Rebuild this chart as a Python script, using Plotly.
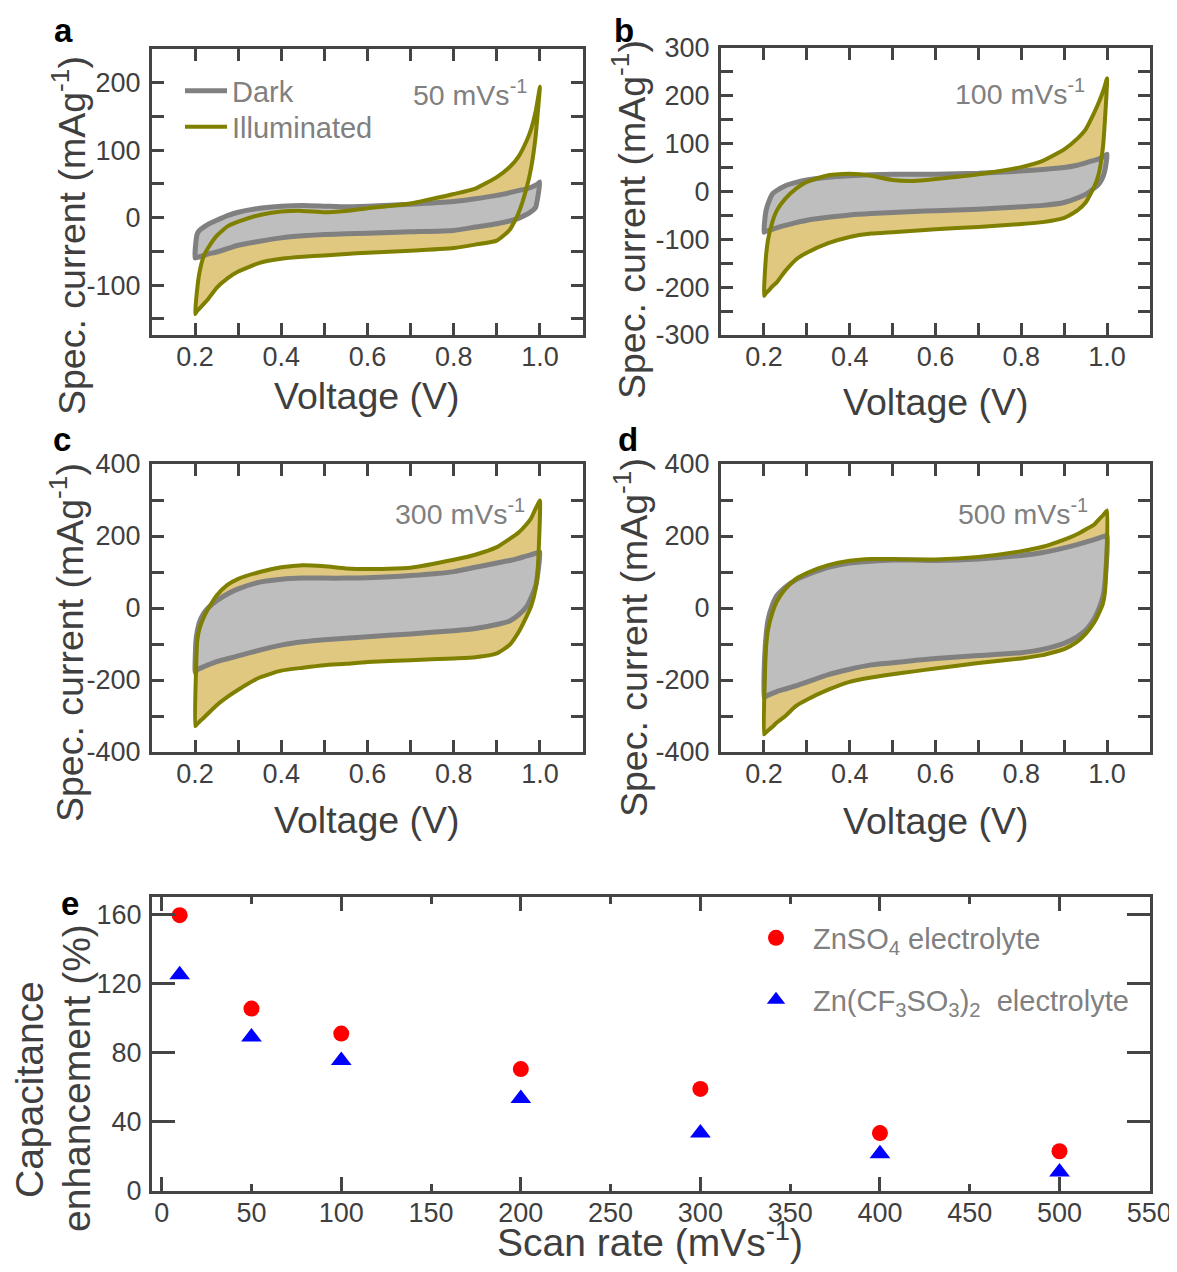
import plotly.graph_objects as go

# ---------------- data ----------------
V_GRID = [0.200, 0.202, 0.205, 0.210, 0.220, 0.230, 0.250, 0.275, 0.300, 0.350,
          0.400, 0.450, 0.500, 0.550, 0.600, 0.700, 0.800, 0.850, 0.900, 0.930,
          0.950, 0.970, 0.980, 0.990, 0.995, 1.000]

# panel a, 50 mV/s
A_DARK_FWD = [-60, -35, -24, -19, -14, -10, -4, 3, 8, 14, 17, 18, 17, 16, 17, 20, 24, 28, 33, 37, 40, 43, 45, 48, 50, 53]
A_DARK_REV = [-60, -59.5, -59, -58, -56, -54, -51, -46, -41, -35, -30, -27, -25, -24, -23, -21, -19, -14, -9, -5, -1, 5, 9, 15, 30, 53]
A_ILL_FWD = [-143, -125, -105, -82, -57, -45, -27, -13, -6, 4, 9, 10, 8, 10, 14, 21, 35, 43, 60, 75, 90, 115, 132, 157, 175, 194]
A_ILL_REV = [-143, -141, -138, -135, -128, -121, -104, -90, -80, -67, -61, -58, -56, -54, -52, -49, -45, -40, -34, -18, 6, 46, 75, 120, 155, 194]
# panel b, 100 mV/s
B_DARK_FWD = [-85, -60, -40, -25, -5, 2, 12, 19, 24, 30, 33, 35, 36, 36, 36, 38, 43, 46, 50, 55, 60, 65, 68, 72, 75, 78]
B_DARK_REV = [-85, -84, -83, -82, -79, -76, -71, -65, -60, -54, -49, -46, -44, -42, -40, -37, -32, -29, -23, -14, -6, 7, 15, 30, 45, 78]
B_ILL_FWD = [-218, -175, -134, -99, -63, -40, -15, 6, 20, 34, 37, 33, 24, 22, 26, 36, 51, 64, 88, 110, 130, 165, 185, 208, 222, 237]
B_ILL_REV = [-218, -216, -212, -208, -198, -190, -166, -142, -128, -108, -95, -88, -85, -82, -79, -74, -68, -64, -55, -40, -23, 10, 35, 90, 150, 237]
# panel c, 300 mV/s
C_DARK_FWD = [-179, -90, -65, -40, -15, 0, 20, 39, 53, 72, 80, 83, 83, 83, 84, 90, 101, 113, 125, 132, 138, 145, 148, 152, 154, 155]
C_DARK_REV = [-179, -176, -172, -168, -163, -158, -149, -141, -133, -117, -103, -94, -88, -84, -80, -72, -63, -57, -46, -36, -20, 5, 30, 60, 95, 155]
C_ILL_FWD = [-328, -180, -91, -58, -26, -3, 35, 64, 81, 100, 113, 119, 116, 110, 108, 112, 134, 148, 169, 192, 209, 234, 250, 276, 288, 299]
C_ILL_REV = [-328, -326, -322, -316, -305, -293, -270, -247, -227, -193, -174, -166, -159, -155, -150, -145, -140, -137, -126, -102, -68, -21, 6, 53, 108, 299]
# panel d, 500 mV/s
D_DARK_FWD = [-249, -130, -77, -31, 9, 34, 58, 79, 92, 113, 125, 130, 133, 133, 132, 136, 146, 154, 167, 176, 183, 190, 194, 198, 200, 201]
D_DARK_REV = [-249, -247, -245, -242, -237, -232, -225, -216, -206, -185, -170, -158, -152, -146, -140, -132, -124, -115, -98, -80, -62, -30, -5, 30, 70, 201]
D_ILL_FWD = [-351, -200, -110, -58, -12, 18, 53, 81, 97, 119, 131, 136, 136, 135, 135, 142, 158, 170, 190, 205, 218, 232, 245, 257, 264, 271]
D_ILL_REV = [-351, -349, -345, -340, -330, -318, -300, -272, -255, -227, -205, -193, -184, -176, -168, -153, -140, -131, -114, -94, -72, -40, -17, 11, 45, 271]

# panel e
E_RATE = [10, 50, 100, 200, 300, 400, 500]
E_ZNSO4 = [159.5, 105.5, 91, 70.5, 59, 33.5, 23]
E_ZNOTF = [125, 89, 75.5, 53.5, 33.5, 21.5, 11]

# ticks and tick labels
CV_XTICKS = [0.2, 0.4, 0.6, 0.8, 1.0]
CV_XLABELS = ['0.2', '0.4', '0.6', '0.8', '1.0']
CV_XMINOR = [0.3, 0.5, 0.7, 0.9]
A_YTICKS = [-100, 0, 100, 200]
A_YMINOR = [-150, -50, 50, 150]
B_YTICKS = [-300, -200, -100, 0, 100, 200, 300]
B_YMINOR = [-250, -150, -50, 50, 150, 250]
CD_YTICKS = [-400, -200, 0, 200, 400]
CD_YMINOR = [-300, -100, 100, 300]
E_XTICKS = [0, 50, 100, 150, 200, 250, 300, 350, 400, 450, 500, 550]
E_XMAJOR = [0, 100, 200, 300, 400, 500]
E_YTICKS = [0, 40, 80, 120, 160]

# ---------------- styling ----------------
FONT = 'Liberation Sans, Arial, sans-serif'
AX = '#444444'
TXT = '#3f3f3f'
GTXT = '#808080'
DARK_LINE = '#808080'
DARK_FILL = '#bebebe'
ILL_LINE = '#808000'
ILL_FILL = '#e0c880'

W, H = 1161, 1256
OFF = 8


def fx(p):
    return (p - OFF) / W


def fy(p):
    return 1 - (p - OFF) / H


fig = go.Figure()

panels = [
    dict(k='', box=(152, 583, 49, 335), yr=[-174, 250], yt=A_YTICKS, ym=A_YMINOR,
         d=(A_DARK_FWD, A_DARK_REV), i=(A_ILL_FWD, A_ILL_REV)),
    dict(k='2', box=(721, 1150, 48, 335), yr=[-300, 300], yt=B_YTICKS, ym=B_YMINOR,
         d=(B_DARK_FWD, B_DARK_REV), i=(B_ILL_FWD, B_ILL_REV)),
    dict(k='3', box=(152, 583, 464, 752), yr=[-400, 400], yt=CD_YTICKS, ym=CD_YMINOR,
         d=(C_DARK_FWD, C_DARK_REV), i=(C_ILL_FWD, C_ILL_REV)),
    dict(k='4', box=(721, 1150, 464, 752), yr=[-400, 400], yt=CD_YTICKS, ym=CD_YMINOR,
         d=(D_DARK_FWD, D_DARK_REV), i=(D_ILL_FWD, D_ILL_REV)),
]


def loop(fwd, rev):
    xs = list(V_GRID) + list(V_GRID[::-1][1:])
    ys = list(fwd) + list(rev[::-1][1:])
    return xs, ys


common = dict(showline=True, linewidth=3, linecolor=AX, mirror='ticks', ticks='inside',
              tickwidth=3, tickcolor=AX, showgrid=False, zeroline=False,
              tickfont=dict(family=FONT, size=27, color=TXT), tickmode='array',
              ticklabeloverflow='allow')


def minor(vals, length):
    return dict(tickmode='array', tickvals=vals, ticklen=length, tickwidth=3,
                tickcolor=AX, ticks='inside', showgrid=False)


layout_axes = {}
for p in panels:
    k = p['k']
    xa, ya = 'x' + k, 'y' + k
    x0, x1, y0, y1 = p['box']
    ix, iy = loop(*p['i'])
    dx, dy = loop(*p['d'])
    sm = dict(shape='spline', smoothing=0.5)
    fig.add_trace(go.Scatter(x=ix, y=iy, mode='lines', fill='toself', fillcolor=ILL_FILL,
                             line=dict(width=0, **sm), xaxis=xa, yaxis=ya, showlegend=False,
                             hoverinfo='skip'))
    fig.add_trace(go.Scatter(x=dx, y=dy, mode='lines', fill='toself', fillcolor=DARK_FILL,
                             line=dict(color=DARK_LINE, width=5, **sm), xaxis=xa, yaxis=ya,
                             showlegend=False))
    fig.add_trace(go.Scatter(x=ix, y=iy, mode='lines',
                             line=dict(color=ILL_LINE, width=4, **sm), xaxis=xa, yaxis=ya,
                             showlegend=False))
    layout_axes['xaxis' + k] = dict(domain=[fx(x0), fx(x1)], range=[0.1, 1.1], anchor=ya,
                                    tickvals=CV_XTICKS, ticktext=CV_XLABELS, ticklen=12,
                                    minor=minor(CV_XMINOR, 12),
                                    ticklabelstandoff=-4, **common)
    layout_axes['yaxis' + k] = dict(domain=[fy(y1), fy(y0)], range=p['yr'], anchor=xa,
                                    tickvals=p['yt'], ticktext=[str(v) for v in p['yt']],
                                    ticklen=12, minor=minor(p['ym'], 12),
                                    ticklabelstandoff=3, **common)

# legend entries for panel a (one legend per entry for exact spacing)
fig.add_trace(go.Scatter(x=[None], y=[None], mode='lines', name='Dark',
                         line=dict(color=DARK_LINE, width=5), legend='legend'))
fig.add_trace(go.Scatter(x=[None], y=[None], mode='lines', name='Illuminated',
                         line=dict(color=ILL_LINE, width=4), legend='legend3'))

# panel e
fig.add_trace(go.Scatter(x=E_RATE, y=E_ZNSO4, mode='markers', name='ZnSO<sub>4</sub> electrolyte',
                         marker=dict(symbol='circle', size=16, color='#ff0000'),
                         xaxis='x5', yaxis='y5', legend='legend2'))
fig.add_trace(go.Scatter(x=E_RATE, y=E_ZNOTF, mode='markers',
                         name='Zn(CF<sub>3</sub>SO<sub>3</sub>)<sub>2</sub>  electrolyte',
                         marker=dict(symbol='triangle-up', size=18, color='#0000ff'),
                         xaxis='x5', yaxis='y5', legend='legend4'))

layout_axes['xaxis5'] = dict(domain=[fx(152), fx(1150)], range=[-5.4, 550.4], anchor='y5',
                             tickvals=E_XTICKS, ticktext=[str(v) for v in E_XTICKS], ticklen=7,
                             minor=minor(E_XMAJOR, 14),
                             ticklabelstandoff=-4, **common)
layout_axes['yaxis5'] = dict(domain=[fy(1191), fy(897)], range=[0, 170], anchor='x5',
                             tickvals=E_YTICKS, ticktext=[str(v) for v in E_YTICKS], ticklen=23,
                             ticklabelstandoff=2, **common)

ann = []


def text(x, y, s, size, color=TXT, xanchor='center', yanchor='middle', angle=0, bold=False):
    if bold:
        s = '<b>' + s + '</b>'
    ann.append(dict(x=fx(x), y=fy(y), xref='paper', yref='paper', text=s, showarrow=False,
                    xanchor=xanchor, yanchor=yanchor, textangle=angle, borderpad=0,
                    font=dict(family=FONT, size=size, color=color)))


# panel letters
text(63, 31, 'a', 33, '#000000', bold=True)
text(624, 31, 'b', 33, '#000000', bold=True)
text(62, 439, 'c', 33, '#000000', bold=True)
text(628, 440, 'd', 33, '#000000', bold=True)
text(70, 904, 'e', 33, '#000000', bold=True)

# scan-rate labels
text(528, 93, '50 mVs<sup>-1</sup>', 28.5, GTXT, xanchor='right')
text(1086, 92, '100 mVs<sup>-1</sup>', 28.5, GTXT, xanchor='right')
text(526, 512, '300 mVs<sup>-1</sup>', 28.5, GTXT, xanchor='right')
text(1089, 512, '500 mVs<sup>-1</sup>', 28.5, GTXT, xanchor='right')

# axis titles
YT = 'Spec. current (mAg<sup>-1</sup>)'
text(367, 396, 'Voltage (V)', 37.5)
text(936, 402, 'Voltage (V)', 37.5)
text(367, 820, 'Voltage (V)', 37.5)
text(936, 821, 'Voltage (V)', 37.5)
text(69, 236, YT, 37.5, angle=-90)
text(629, 219, YT, 37.5, angle=-90)
text(67, 643, YT, 37.5, angle=-90)
text(631, 638, YT, 37.5, angle=-90)
text(29, 1090, 'Capacitance', 39, angle=-90)
text(76, 1078, 'enhancement (%)', 39, angle=-90)
text(650, 1239, 'Scan rate (mVs<sup>-1</sup>)', 39)


def leg(x, y):
    return dict(x=fx(x), y=fy(y), xanchor='left', yanchor='middle', bgcolor='rgba(0,0,0,0)',
                font=dict(family=FONT, size=29, color=GTXT), borderwidth=0)


fig.update_layout(
    width=W, height=H, margin=dict(l=0, r=0, t=0, b=0, pad=0, autoexpand=False),
    paper_bgcolor='white', plot_bgcolor='white',
    font=dict(family=FONT, color=TXT),
    annotations=ann,
    legend=dict(**leg(180, 91), itemwidth=42),
    legend3=dict(**leg(180, 127), itemwidth=42),
    legend2=dict(**leg(739, 938), itemwidth=64),
    legend4=dict(**leg(739, 1000), itemwidth=64),
    **layout_axes,
)

fig.write_html("out.html")
